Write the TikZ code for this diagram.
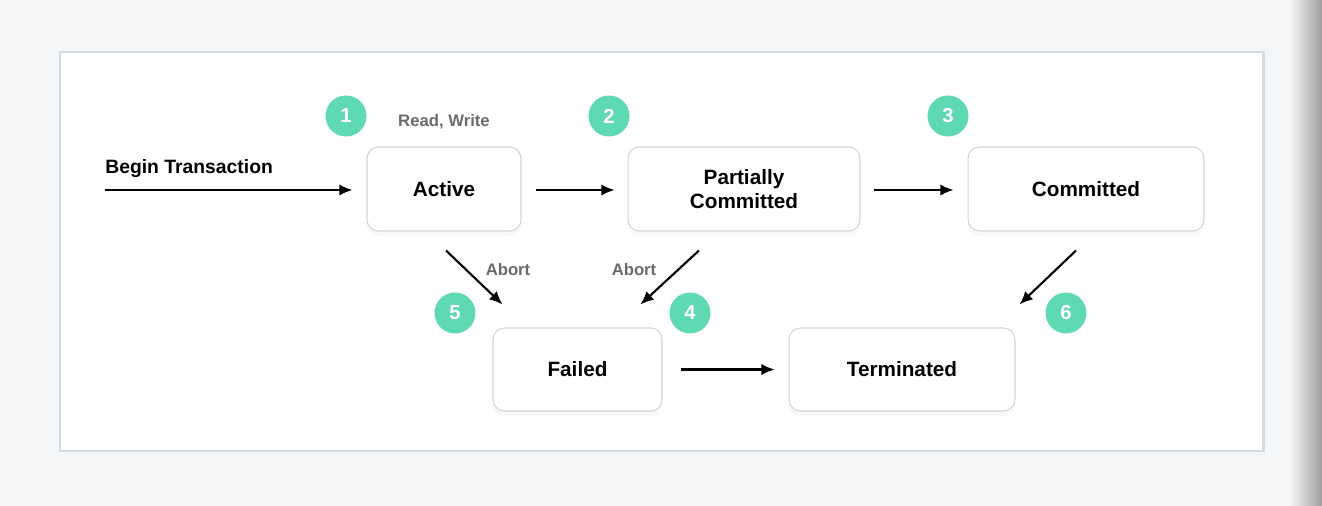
\documentclass[tikz,border=0pt]{standalone}
\usepackage{fontspec}
\setmainfont{Liberation Sans}
\usetikzlibrary{arrows.meta,shadows}
\definecolor{pagebg}{HTML}{F4F5F7}
\definecolor{panelline}{HTML}{D5DAE1}
\definecolor{boxline}{HTML}{D4D4D4}
\definecolor{mint}{HTML}{5FD8B4}
\definecolor{labelgray}{HTML}{6B6B6B}
\begin{document}
\begin{tikzpicture}[x=0.02cm,y=-0.02cm,
          st/.style={draw=boxline,fill=white,rounded corners=6.5pt,line width=0.6pt,align=center,
            font=\bfseries\fontsize{11.8}{13.5}\selectfont,
            drop shadow={opacity=0.05,shadow xshift=0pt,shadow yshift=-3pt}},
          num/.style={circle,fill=mint,text=white,minimum size=0.82cm,inner sep=0pt,font=\bfseries\fontsize{11.5}{12}\selectfont},
          lbl/.style={text=labelgray,font=\bfseries\fontsize{9.5}{11}\selectfont},
          ar/.style={-{Latex[length=7.5pt,width=6.5pt]},line width=1.2pt}
          ]
          \useasboundingbox (0,0) rectangle (1322,506);
          \fill[pagebg] (0,0) rectangle (1322,506);
          \shade[left color=pagebg,right color=black!38] (1290,0) rectangle (1322,506);
          \draw[panelline,fill=white,line width=1.7pt] (60,52) rectangle (1263,451);
          \node[st,minimum width=3.08cm,minimum height=1.68cm] (a) at (444,189)   {Active};
          \node[st,minimum width=4.64cm,minimum height=1.68cm] (p) at (744,189)   {Partially\\Committed};
          \node[st,minimum width=4.72cm,minimum height=1.68cm] (c) at (1086,189)  {Committed};
          \node[st,minimum width=3.38cm,minimum height=1.66cm] (f) at (577.5,369.5) {Failed};
          \node[st,minimum width=4.52cm,minimum height=1.66cm] (t) at (902,369.5) {Terminated};
          \node[num] (n1) at (346,116)  {1};
          \node[num] (n2) at (609,116)  {2};
          \node[num] (n3) at (948,116)  {3};
          \node[num] (n4) at (690,313)  {4};
          \node[num] (n5) at (455,313)  {5};
          \node[num] (n6) at (1066,313) {6};
          \node[lbl] (rw) at (444,122) {Read, Write};
          \node[lbl] (ab1) at (508,270) {Abort};
          \node[lbl] (ab2) at (634,270) {Abort};
          \node[anchor=west,inner sep=0pt,font=\bfseries\fontsize{11}{13}\selectfont] (bt) at (105,169) {Begin Transaction};
          \coordinate (s) at (105,190);
          \draw[ar] (s) -- ([shift={(-14,1)}]a.west);
          \draw[ar] ([shift={(14,1)}]a.east) -- ([shift={(-13,1)}]p.west);
          \draw[ar] ([shift={(13,1)}]p.east) -- ([shift={(-14,1)}]c.west);
          \draw[ar] ([shift={(2,19)}]a.south) -- ([shift={(10,-23)}]f.north west);
          \draw[ar] ([shift={(-45,19)}]p.south) -- ([shift={(-22,-23)}]f.north east);
          \draw[ar] ([shift={(-10,19)}]c.south) -- ([shift={(4,-23)}]t.north east);
          \draw[ar] ([shift={(18,0)}]f.east) -- ([shift={(-14,0)}]t.west);
        \end{tikzpicture}
\end{document}
